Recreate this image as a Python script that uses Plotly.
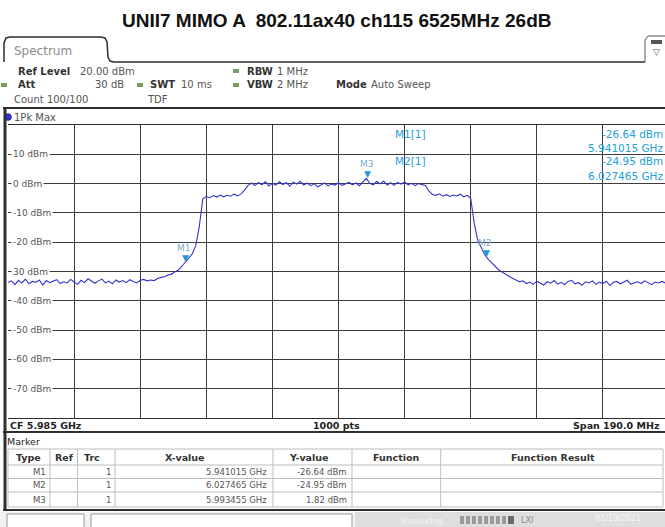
import numpy as np
import plotly.graph_objects as go

W, H = 665, 527

TITLE = "UNII7 MIMO A  802.11ax40 ch115 6525MHz 26dB"

# sweep definition (CF 5.985 GHz, span 190 MHz)
START_MHZ = 5890.0
STOP_MHZ = 6080.0
DIV_MHZ = 19.0
SWEEP_POINTS = 1000

# trace level, one value per MHz (5890 ... 6080 MHz)
LEVEL_DBM = [
    # 5890-5930
    -33.8, -33.2, -34.5, -33.0, -33.9, -32.6, -34.2, -33.4, -33.7, -32.9,
    -34.6, -33.1, -33.8, -33.3, -32.8, -34.1, -33.5, -33.9, -32.7, -33.6,
    -34.4, -33.0, -33.8, -32.5, -33.4, -34.0, -33.2, -32.6, -33.9, -33.3,
    -34.2, -32.9, -33.6, -33.1, -33.8, -32.8, -33.4, -33.9, -33.0, -32.7,
    -33.2,
    # 5931-5958
    -32.9, -33.1, -32.4, -32.0, -31.8, -31.2, -30.9, -30.1, -29.5, -28.2,
    -26.8, -25.6, -23.9, -21.0, -14.5, -5.2, -4.4, -4.8, -4.1, -4.6,
    -3.9, -4.5, -4.0, -4.3, -3.6, -4.2, -3.5, -2.2,
    # 5959-6010
    -0.6, 0.2, -0.7, 0.4, -0.4, 0.7, -0.8, 0.1, -0.5, 0.6,
    -0.3, 0.3, -0.9, 0.5, -0.2, 0.8, -0.5, 0.2, -0.7, 0.0,
    -1.1, -0.5, 0.2, -0.8, -0.1, -0.5, 0.3, -0.6, 0.0, 0.4,
    -0.4, 0.2, -0.7, 0.5, 1.8, 0.1, -0.4, 0.7, -0.1, 0.9,
    -0.5, 0.3, -0.6, 0.4, -0.2, 0.6, -0.4, 0.1, -0.7, 0.0,
    -0.3, -0.6,
    # 6011-6037
    -2.6, -3.7, -4.0, -3.5, -4.3, -3.8, -4.4, -3.9, -4.2, -3.6,
    -4.5, -4.0, -5.0, -13.5, -19.3, -22.0, -24.2, -25.8, -27.0, -28.1,
    -29.4, -30.2, -31.0, -31.6, -32.3, -32.9, -33.5,
    # 6038-6080
    -33.2, -34.1, -33.6, -34.4, -33.3, -33.9, -34.6, -33.5, -34.0, -33.1,
    -34.3, -33.7, -34.5, -33.4, -33.0, -34.2, -33.8, -34.7, -33.5, -33.9,
    -33.2, -34.4, -33.6, -34.1, -33.3, -34.8, -33.7, -33.4, -34.2, -33.6,
    -33.0, -34.3, -33.9, -33.5, -34.1, -33.2, -33.8, -34.5, -33.6, -33.9,
    -33.4, -34.0, -33.7,
]

Y_TICKS = [10, 0, -10, -20, -30, -40, -50, -60, -70]
Y_TICK_LABELS = ["10 dBm", "0 dBm", "-10 dBm", "-20 dBm", "30 dBm",
                 "-40 dBm", "-50 dBm", "-60 dBm", "-70 dBm"]

MARKER_NAMES = ["M1", "M2", "M3"]
MARKER_FREQ_GHZ = [5.941015, 6.027465, 5.993455]
MARKER_LEVEL_DBM = [-26.64, -24.95, 1.82]

HEADER_COLS = ["Type", "Ref", "Trc", "X-value", "Y-value", "Function", "Function Result"]

freq_mhz = np.linspace(START_MHZ, STOP_MHZ, len(LEVEL_DBM))

# ---------- geometry helpers (pixel -> paper) ----------
def X(px):
    return px / W

def Y(py):
    return 1 - py / H

PLOT_L, PLOT_T, PLOT_B = 8, 125, 418
MHZ_PER_PX = (STOP_MHZ - START_MHZ) / 661.0
x_visible_end = START_MHZ + (W - PLOT_L) * MHZ_PER_PX

UI_FONT = "DejaVu Sans"
DARK = "#2e2e2e"
TRACE = "#3434cf"
MK = "#1e9ad6"

fig = go.Figure()
fig.add_trace(go.Scatter(x=freq_mhz, y=LEVEL_DBM, mode="lines",
                         line=dict(color=TRACE, width=1.1), hoverinfo="skip"))

fig.update_layout(
    width=W, height=H, margin=dict(l=0, r=0, t=0, b=0),
    paper_bgcolor="white", plot_bgcolor="white", showlegend=False,
    xaxis=dict(domain=[X(PLOT_L), 1], range=[START_MHZ, x_visible_end],
               tick0=START_MHZ, dtick=DIV_MHZ, showticklabels=False, ticks="",
               showgrid=True, gridcolor="#3c3c3c", gridwidth=1, zeroline=False,
               showline=True, linecolor=DARK, linewidth=1, mirror=True),
    yaxis=dict(domain=[Y(PLOT_B), Y(PLOT_T)], range=[-80, 20], dtick=10,
               showticklabels=False, ticks="", showgrid=True, gridcolor="#3c3c3c",
               gridwidth=1, zeroline=False, showline=False),
)

shapes = []
ann = []

def rect(x0, y0, x1, y1, fill=None, line=None, lw=1, layer="above"):
    shapes.append(dict(type="rect", xref="paper", yref="paper",
                       x0=X(x0), x1=X(x1), y0=Y(y0), y1=Y(y1),
                       fillcolor=fill if fill else "rgba(0,0,0,0)",
                       line=dict(color=line if line else "rgba(0,0,0,0)", width=lw if line else 0),
                       layer=layer))

def hline(x0, x1, y, color=DARK, lw=1):
    shapes.append(dict(type="line", xref="paper", yref="paper",
                       x0=X(x0), x1=X(x1), y0=Y(y), y1=Y(y),
                       line=dict(color=color, width=lw), layer="above"))

def vline(x, y0, y1, color=DARK, lw=1):
    shapes.append(dict(type="line", xref="paper", yref="paper",
                       x0=X(x), x1=X(x), y0=Y(y0), y1=Y(y1),
                       line=dict(color=color, width=lw), layer="above"))

def text(x, y, s, size=10, color="#333", bold=False, anchor="left", family=UI_FONT, bg=None):
    ann.append(dict(xref="paper", yref="paper", x=X(x), y=Y(y), text=f"<b>{s}</b>" if bold else s,
                    showarrow=False, xanchor=anchor, yanchor="middle",
                    font=dict(family=family, size=size, color=color),
                    bgcolor=bg, borderpad=0))

def path_px(pts):
    return "M " + " L ".join(f"{X(a)},{Y(b)}" for a, b in pts)

# ---------- title ----------
text(336, 20, TITLE, size=19, color="#111", bold=True, anchor="center", family="Liberation Sans")

# ---------- tab and header ----------
tab = [(4, 62), (4, 43), (6, 38), (10, 37), (101, 37), (105, 38), (107, 42), (108, 57), (110, 61), (114, 62), (645, 62)]
shapes.append(dict(type="path", xref="paper", yref="paper", path=path_px(tab),
                   line=dict(color=DARK, width=1.5), layer="above"))
text(13, 51, "Spectrum", size=12, color="#8c8c8c")
# icon at top right
shapes.append(dict(type="path", xref="paper", yref="paper",
                   path=path_px([(645, 62), (645, 40), (648, 36), (668, 36)]),
                   line=dict(color="#555", width=1), layer="above"))
rect(651, 40, 662, 44, fill="#555")
text(656, 52, "▽", size=9, color="#555", anchor="center")

GREEN = "#7e9b63"
text(17, 71, "Ref Level", size=10, color="#333", bold=True)
text(79, 71, "20.00 dBm", size=10, color="#555")
rect(233, 69, 239, 73, fill=GREEN)
text(246, 71, "RBW", size=10, color="#333", bold=True)
text(276, 71, "1 MHz", size=10, color="#555")

rect(1, 83, 7, 87, fill=GREEN)
text(17, 85, "Att", size=10, color="#333", bold=True)
text(125, 85, "30 dB", size=10, color="#555", anchor="right")
rect(137, 83, 143, 87, fill=GREEN)
text(149, 85, "SWT", size=10, color="#333", bold=True)
text(180, 85, "10 ms", size=10, color="#555")
rect(233, 83, 239, 87, fill=GREEN)
text(246, 85, "VBW", size=10, color="#333", bold=True)
text(276, 85, "2 MHz", size=10, color="#555")
text(335, 85, "Mode", size=10, color="#333", bold=True)
text(370, 85, "Auto Sweep", size=10, color="#555")

text(13, 99, "Count 100/100", size=10, color="#555")
text(146, 99, "TDF", size=10, color="#555")

hline(3, 665, 108, lw=2)
shapes.append(dict(type="circle", xref="paper", yref="paper",
                   x0=X(4.5), x1=X(11.5), y0=Y(113.5), y1=Y(120.5),
                   fillcolor="#3232c8", line=dict(color="#20208a", width=0.5), layer="above"))
text(13, 117, "1Pk Max", size=10, color="#555")

# left frame
vline(5, 108, 510, lw=3)

# white marker-info box over the grid (hides gridlines, under trace)
shapes.append(dict(type="rect", xref="paper", yref="paper",
                   x0=X(392), x1=X(668), y0=Y(182.5), y1=Y(126),
                   fillcolor="white", line=dict(width=0), layer="between"))

# y labels inside grid
for v, lab in zip(Y_TICKS, Y_TICK_LABELS):
    ann.append(dict(xref="paper", yref="y", x=X(11), y=v, text=lab, showarrow=False,
                    xanchor="left", yanchor="middle", bgcolor="white", borderpad=1,
                    font=dict(family=UI_FONT, size=9, color="#555")))

# markers on the trace
for name, f, lv in zip(MARKER_NAMES, MARKER_FREQ_GHZ, MARKER_LEVEL_DBM):
    ann.append(dict(x=f * 1000, y=lv, xref="x", yref="y", text="▼", showarrow=False,
                    xanchor="center", yanchor="bottom", yshift=-3,
                    font=dict(family=UI_FONT, size=9, color=MK)))
    ann.append(dict(x=f * 1000, y=lv, xref="x", yref="y", text=name, showarrow=False,
                    xanchor="center", yanchor="bottom", yshift=7, xshift=-1,
                    font=dict(family=UI_FONT, size=9, color="#7aaccc")))

# marker readout
INFO = "#22a0d8"
for i, (name, f, lv) in enumerate(zip(MARKER_NAMES[:2], MARKER_FREQ_GHZ[:2], MARKER_LEVEL_DBM[:2])):
    y0 = 133.5 + i * 28
    text(394, y0, f"{name}[1]", size=10.5, color=INFO)
    text(664, y0, f"{lv:.2f} dBm", size=10.5, color=INFO, anchor="right")
    text(664, y0 + 14, f"{f:.6f} GHz", size=10.5, color=INFO, anchor="right")

# ---------- bottom of diagram ----------
cf_ghz = (START_MHZ + STOP_MHZ) / 2 / 1000
span_mhz = STOP_MHZ - START_MHZ
text(9, 425, f"CF {cf_ghz:.3f} GHz", size=9.5, color="#222", bold=True)
text(336, 425, f"{SWEEP_POINTS} pts", size=9.5, color="#222", bold=True, anchor="center")
text(661, 425, f"Span {span_mhz:.1f} MHz", size=9.5, color="#222", bold=True, anchor="right")
hline(3, 665, 432, lw=2)

text(6, 441, "Marker", size=9.5, color="#222")

# ---------- marker table ----------
TL, TR, TT, TB = 8, 663, 449, 507
ROW_Y = [TT, 465, 478.5, 492, TB]
COL_X = [TL, 50, 77.5, 115, 273, 352, 440.7, TR]
GRID = "#bdbdbd"
rect(TL, TT, TR, TB, line=GRID)
for yy in ROW_Y[1:-1]:
    hline(TL, TR, yy, color=GRID)
for xx in COL_X[1:-1]:
    vline(xx, TT, TB, color=GRID)
HEAD_CX = [28.6, 64.6, 92.3, 185.3, 309, 396, 553]
for cx, h in zip(HEAD_CX, HEADER_COLS):
    text(cx, 457.5, h, size=9.5, color="#333", bold=True, anchor="center")
for i, (name, f, lv) in enumerate(zip(MARKER_NAMES, MARKER_FREQ_GHZ, MARKER_LEVEL_DBM)):
    yy = (ROW_Y[i + 1] + ROW_Y[i + 2]) / 2
    text(47, yy, name, size=8.5, color="#555", anchor="right")
    text(112, yy, "1", size=8.5, color="#555", anchor="right")
    text(268, yy, f"{f:.6f} GHz", size=8.5, color="#555", anchor="right")
    text(348, yy, f"{lv:.2f} dBm", size=8.5, color="#555", anchor="right")

hline(3, 665, 510, lw=2)

# ---------- status bar ----------
rect(0, 512, 665, 527, fill="#f2f2f2")
rect(7, 514, 84, 530, fill="white", line="#9a9a9a")
rect(91, 514, 352, 530, fill="white", line="#9a9a9a")
rect(355, 512, 665, 527, fill="#dedede")
text(400, 521, "Measuring...", size=8, color="#f4f4f4")
for k in range(8):
    rect(460 + k * 6, 516, 464 + k * 6, 524, fill="#9a9a9a")
rect(508, 516, 514, 524, fill="#6a6a6a")
text(527, 520, "LXI", size=8, color="#8a8a8a", anchor="center")
text(618, 518, "01/19/2021", size=8, color="#f8f8f8", anchor="center")

fig.update_layout(shapes=shapes, annotations=ann)
fig.write_html("out.html", config={"displayModeBar": False},
               post_script="document.body.style.margin='0px'; document.body.style.overflow='hidden';")
